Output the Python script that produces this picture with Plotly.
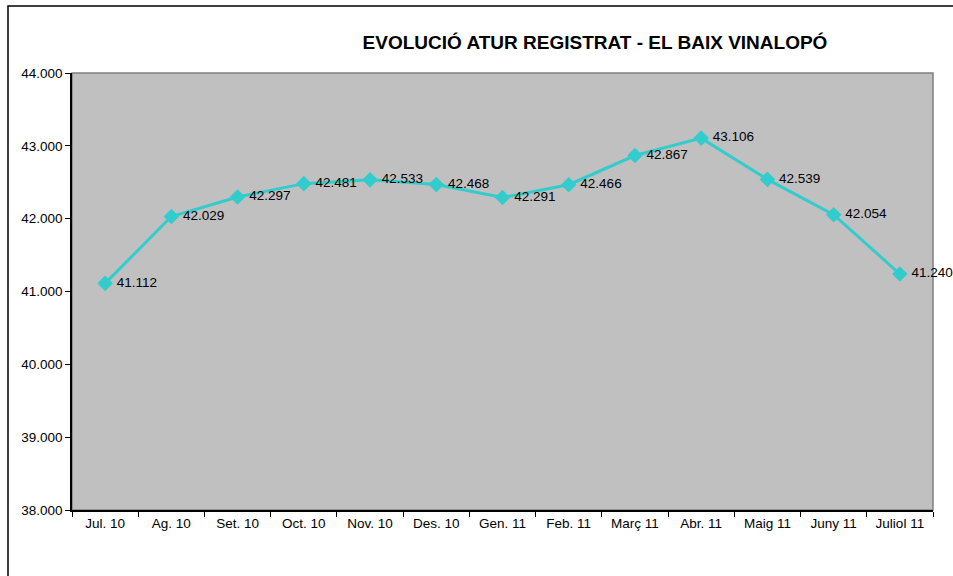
import plotly.graph_objects as go

# Monthly registered unemployment, El Baix Vinalopó
months = ["Jul. 10", "Ag. 10", "Set. 10", "Oct. 10", "Nov. 10", "Des. 10",
          "Gen. 11", "Feb. 11", "Març 11", "Abr. 11", "Maig 11", "Juny 11", "Juliol 11"]
unemployed = [41112, 42029, 42297, 42481, 42533, 42468,
              42291, 42466, 42867, 43106, 42539, 42054, 41240]
y_ticks = [38000, 39000, 40000, 41000, 42000, 43000, 44000]

W, H = 953, 576
L, R, T, B = 72, 20, 73, 66
pw, ph = W - L - R, H - T - B

def fmt(v):
    return f"{v:,}".replace(",", ".")

FONT = "Liberation Sans, Arial, sans-serif"

# line with diamond markers
fig = go.Figure(go.Scatter(
    x=months, y=unemployed,
    mode="lines+markers",
    line=dict(color="#33CCCC", width=3),
    marker=dict(symbol="diamond", size=12, color="#33CCCC"),
    cliponaxis=False,
    hoverinfo="skip",
))
# value labels, pushed a little further right by a wider invisible marker
fig.add_trace(go.Scatter(
    x=months, y=unemployed,
    mode="markers+text",
    marker=dict(size=17, color="rgba(0,0,0,0)"),
    text=[fmt(v) for v in unemployed],
    textposition="middle right",
    textfont=dict(family=FONT, size=13.5, color="black"),
    cliponaxis=False,
    hoverinfo="skip",
))

# outer frame of the chart area and grey plot border
px = lambda p: (p - L) / pw
py = lambda p: (H - B - p) / ph
fig.add_shape(type="rect", xref="paper", yref="paper",
              x0=px(8), x1=px(W + 20), y0=py(6), y1=py(H + 20),
              line=dict(color="black", width=1.5), layer="below")
fig.add_shape(type="rect", xref="paper", yref="paper",
              x0=0, x1=1, y0=0, y1=1,
              line=dict(color="#808080", width=1.5), layer="below")

fig.update_layout(
    width=W, height=H,
    margin=dict(l=L, r=R, t=T, b=B),
    paper_bgcolor="white",
    plot_bgcolor="#C0C0C0",
    separators=",.",
    showlegend=False,
    title=dict(text="<b>EVOLUCIÓ ATUR REGISTRAT - EL BAIX VINALOPÓ</b>",
               x=595 / W, xanchor="center", y=1 - 42 / H, yanchor="middle",
               font=dict(family=FONT, size=19, color="black")),
    font=dict(family=FONT, size=13, color="black"),
)
fig.update_xaxes(
    type="category", range=[-0.5, len(months) - 0.5],
    tickson="boundaries", ticks="outside", ticklen=5, tickcolor="black",
    showline=True, linecolor="black", linewidth=1.5,
    showgrid=False, zeroline=False,
    tickfont=dict(family=FONT, size=13.5, color="black"),
)
fig.update_yaxes(
    range=[38000, 44000], tickvals=y_ticks, tickformat=",.0f",
    ticks="outside", ticklen=5, tickcolor="black",
    showline=True, linecolor="black", linewidth=1.5,
    showgrid=False, zeroline=False,
    tickfont=dict(family=FONT, size=13.5, color="black"),
)

fig.write_html("out.html")
